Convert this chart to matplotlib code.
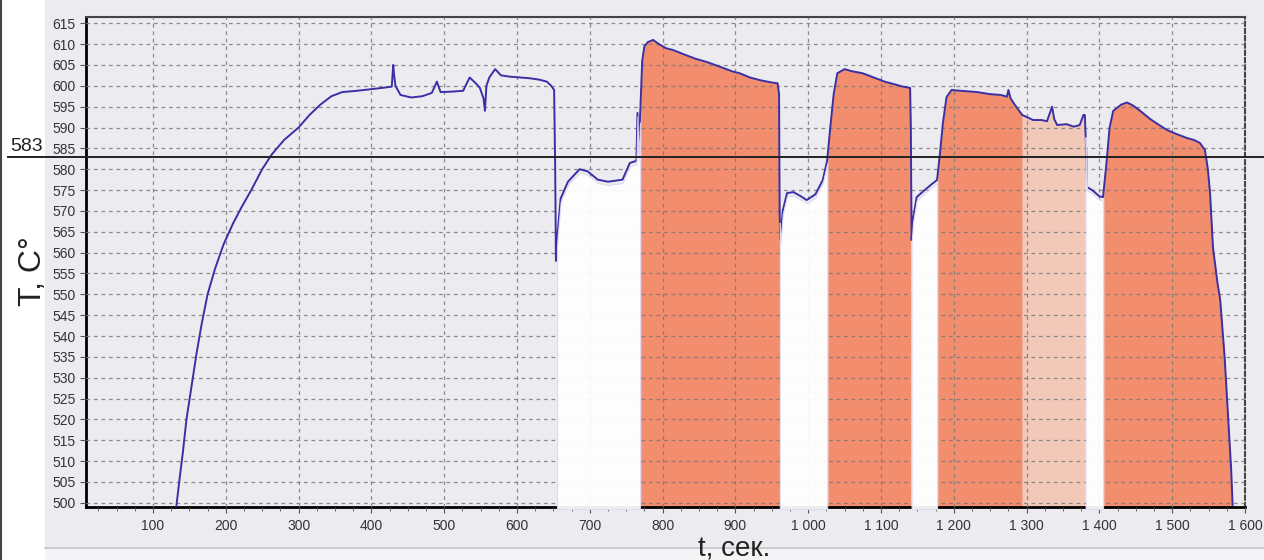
import numpy as np
import matplotlib
matplotlib.use("Agg")
import matplotlib.pyplot as plt
from matplotlib.patches import Rectangle
from matplotlib.lines import Line2D
from matplotlib.ticker import MultipleLocator, FuncFormatter

plt.rcParams["font.family"] = ["Liberation Sans", "DejaVu Sans"]

# temperature trace (t in s, T in deg C)
t_sec = [132, 136, 141, 146, 153, 160, 167, 175, 185, 197, 210, 222, 235, 250, 263,
         280, 300, 315, 330, 345, 360, 380, 400, 415, 428, 430, 431, 433, 440, 455,
         470, 483, 490, 495, 510, 526, 535, 544, 549, 554, 556, 558, 562, 570, 578,
         590, 605, 618, 630, 641, 647, 651, 652.5, 653.5, 656, 660, 670, 686, 697,
         711, 725, 745, 755, 764, 765.5, 767, 769, 772, 775, 780, 787, 795, 805,
         814, 830, 845, 861, 880, 895, 906, 920, 935, 950, 958, 960, 960.8, 962,
         965, 971, 980, 990, 998, 1010, 1020, 1026, 1030, 1035, 1040, 1050, 1060,
         1075, 1090, 1105, 1120, 1130, 1140, 1141, 1142, 1144, 1149, 1160, 1171,
         1177, 1181, 1185, 1190, 1197, 1210, 1232, 1250, 1265, 1273, 1275, 1278,
         1284, 1294, 1309, 1320, 1328, 1335, 1338, 1342, 1355, 1365, 1373, 1378,
         1380, 1382, 1383, 1390, 1400, 1405, 1410, 1414, 1419, 1430, 1438, 1446,
         1456, 1470, 1483, 1493, 1505, 1520, 1530, 1538, 1545, 1549, 1552, 1556,
         1562, 1566, 1572, 1577, 1581, 1583]
temp_c = [499, 505, 512, 520, 528, 536, 543, 550, 556, 562, 567, 571, 575, 580, 583.5,
          587, 590, 593, 595.5, 597.5, 598.5, 598.8, 599.2, 599.5, 599.8, 605, 603, 600, 597.8, 597.2,
          597.5, 598.3, 601, 598.5, 598.6, 598.8, 602, 600.5, 599.5, 597, 594, 600, 602, 604, 602.5,
          602.2, 602, 601.8, 601.5, 601, 600, 599, 580, 558, 565, 573, 577, 580, 579.5,
          577.5, 577, 577.5, 581.5, 582, 593.5, 583, 592, 606, 609.5, 610.5, 611, 610, 609,
          608.6, 607.5, 606.5, 605.7, 604.5, 603.5, 603, 602, 601.3, 600.8, 600.6, 598, 569, 563,
          570, 574.3, 574.5, 573.5, 572.6, 574, 577.4, 582, 589.4, 598, 603, 604, 603.5,
          603, 602, 601, 600.3, 599.8, 599.5, 590, 563, 568, 573.3, 575, 576.6,
          577.4, 583.8, 591, 597.3, 599, 598.8, 598.5, 598, 597.8, 597.4, 599, 597,
          595.4, 593, 591.8, 591.8, 591.5, 595, 592, 590.6, 590.8, 590.2, 590.6, 593,
          593, 584, 575.7, 575, 573.5, 573.3, 582, 590, 594, 595.5, 596, 595.3,
          594, 592, 590.5, 589.4, 588.5, 587.5, 587, 586.3, 584.6, 580, 574.3, 561.3,
          553, 548.6, 535, 520, 508, 499.5]

# shaded stages: start, end, kind
stage_start = [655, 770, 961, 1027, 1142, 1178, 1294, 1381, 1406]
stage_end = [769, 961, 1026, 1141, 1177, 1294, 1380, 1405, 1583]
stage_kind = ["white", "orange", "white", "orange", "white", "orange", "peach", "white", "orange"]

threshold = 583

t_arr = np.array(t_sec, dtype=float)
T_arr = np.array(temp_c, dtype=float)
y_lo, y_hi = 499, 616.5

fig = plt.figure(figsize=(12.64, 5.6), dpi=100, facecolor="white")
# light panel behind the chart
fig.patches.append(Rectangle((45 / 1264, 1 - 547 / 560), 1, 547 / 560, transform=fig.transFigure,
                             facecolor="#ececf0", edgecolor="none", zorder=-5))
fig.patches.append(Rectangle((45 / 1264, 0), 1, 1 - 549 / 560, transform=fig.transFigure,
                             facecolor="#f4f4f6", edgecolor="none", zorder=-5))
fig.lines.append(Line2D([45 / 1264, 1], [1 - 548 / 560] * 2, transform=fig.transFigure,
                        color="#c4c4c8", lw=1.2))
fig.lines.append(Line2D([0.0008, 0.0008], [0, 1], transform=fig.transFigure, color="#444", lw=1.5))

ax = fig.add_axes([86 / 1264, 1 - 507 / 560, (1245 - 86) / 1264, (507 - 17) / 560])
ax.set_facecolor("#ececf0")

colors = {"orange": "#f28d6e", "peach": "#f2c8b8", "white": "#ffffff"}
for a, b, kind in zip(stage_start, stage_end, stage_kind):
    m = (t_arr > a) & (t_arr < b)
    xs = np.concatenate([[a], t_arr[m], [b]])
    ys = np.concatenate([[np.interp(a, t_arr, T_arr)], T_arr[m], [np.interp(b, t_arr, T_arr)]])
    if kind == "white":
        ax.fill_between(xs, ys - 0.8, y_lo - 0.5, color="white", alpha=0.93, lw=0.8,
                        edgecolor="#dcd8f2", zorder=3, clip_on=False)
    else:
        ax.fill_between(xs, ys, y_lo, color=colors[kind], lw=0, zorder=1.5)

ax.plot(t_arr, T_arr, color="#3b2fa6", lw=1.4, zorder=2.8)

# threshold line runs across the whole figure
ax.axhline(threshold, xmin=-(86 - 8) / (1245 - 86), xmax=(1264 - 86) / (1245 - 86),
           color="#222222", lw=1.4, clip_on=False, zorder=5)
y_fig = (1 - 507 / 560) + (threshold - y_lo) / (y_hi - y_lo) * (507 - 17) / 560
fig.text(10 / 1264, y_fig + 0.003, str(threshold), fontsize=14, color="#222", va="bottom", ha="left")

ax.set_xlim(8, 1600)
ax.set_ylim(y_lo, y_hi)
ax.xaxis.set_major_locator(MultipleLocator(100))
ax.xaxis.set_minor_locator(MultipleLocator(25))
ax.yaxis.set_major_locator(MultipleLocator(5))
ax.xaxis.set_major_formatter(FuncFormatter(lambda v, p: f"{int(v):,}".replace(",", " ") if v >= 100 else ""))
ax.yaxis.set_major_formatter(FuncFormatter(lambda v, p: f"{int(v)}" if 500 <= v <= 615 else ""))
ax.tick_params(axis="both", which="major", labelsize=10, labelcolor="#333", color="#555", length=4)
ax.tick_params(axis="x", which="minor", length=3, color="#555")
ax.tick_params(axis="x", pad=5)

ax.set_axisbelow(False)
ax.grid(True, which="major", linestyle=(0, (3, 3)), color="#7a7a7a", lw=0.9, alpha=0.85)

ax.spines["left"].set_linewidth(2)
ax.spines["bottom"].set_linewidth(2)
ax.spines["left"].set_color("black")
ax.spines["bottom"].set_color("black")
ax.spines["top"].set_color("#444")
ax.spines["top"].set_linewidth(1.5)
ax.spines["right"].set_color("#444")
ax.spines["right"].set_linewidth(1.5)
ax.spines["right"].set_linestyle((0, (2, 1.5)))

fig.text(33 / 1264, 0.515, "T, C°", rotation=90, fontsize=23, ha="center", va="center", color="#222")
fig.text(734 / 1264, 1 - 556 / 560, "t, сек.", fontsize=20, ha="center", va="baseline", color="#222")

fig.savefig("out.png", dpi=100, facecolor="white")
